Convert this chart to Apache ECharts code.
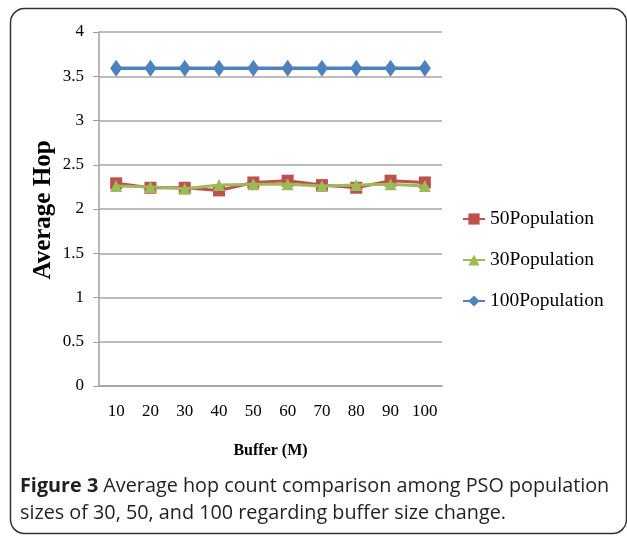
<!DOCTYPE html>
<html>
<head>
<meta charset="utf-8">
<script src="https://cdn.jsdelivr.net/npm/echarts@6/dist/echarts.min.js"></script>
<style>
html,body{margin:0;padding:0;background:#fff;}
#c{width:627px;height:536px;}
</style>
</head>
<body>
<div id="c"></div>
<script>
const categories = ['10','20','30','40','50','60','70','80','90','100'];
const pop50 = [2.29, 2.24, 2.24, 2.21, 2.30, 2.32, 2.27, 2.24, 2.32, 2.30];
const pop30 = [2.26, 2.25, 2.23, 2.27, 2.28, 2.28, 2.26, 2.27, 2.28, 2.26];
const pop100 = [3.59, 3.59, 3.59, 3.59, 3.59, 3.59, 3.59, 3.59, 3.59, 3.59];
const seriesNames = ['50Population', '30Population', '100Population'];
const yAxisName = 'Average Hop';
const xAxisName = 'Buffer (M)';
const captionBold = 'Figure 3';
const captionLine1 = ' Average hop count comparison among PSO population';
const captionLine2 = 'sizes of 30, 50, and 100 regarding buffer size change.';

const chart = echarts.init(document.getElementById('c'), null, {renderer: 'canvas'});
const serif = '"Liberation Serif", "Times New Roman", serif';
const option = {
  backgroundColor: '#ffffff',
  animation: false,
  grid: {left: 99, right: 185, top: 32, bottom: 150},
  legend: {
    orient: 'vertical',
    left: 457,
    top: 203,
    itemWidth: 22,
    itemHeight: 14,
    itemGap: 19,
    data: seriesNames,
    textStyle: {fontFamily: serif, fontSize: 19.5, lineHeight: 22, color: '#000'}
  },
  xAxis: {
    type: 'category',
    data: categories,
    boundaryGap: true,
    name: xAxisName,
    nameLocation: 'middle',
    nameGap: 57,
    nameTextStyle: {fontFamily: serif, fontSize: 16, fontWeight: 'bold', color: '#000'},
    axisLine: {lineStyle: {color: '#a0a0a0', width: 1.5}},
    axisTick: {show: false},
    axisLabel: {fontFamily: serif, fontSize: 17, color: '#000', margin: 17}
  },
  yAxis: {
    type: 'value',
    min: 0, max: 4, interval: 0.5,
    axisLine: {show: true, lineStyle: {color: '#a0a0a0', width: 1.5}},
    axisTick: {show: true, length: 6, lineStyle: {color: '#a0a0a0'}},
    axisLabel: {fontFamily: serif, fontSize: 17, color: '#000', margin: 15},
    splitLine: {lineStyle: {color: '#a6a6a6', width: 1.5}}
  },
  series: [
    {name: seriesNames[0], type: 'line', data: pop50, symbol: 'rect', symbolSize: 12,
     itemStyle: {color: '#c0504d'}, lineStyle: {color: '#c0504d', width: 3}, z: 2},
    {name: seriesNames[1], type: 'line', data: pop30, symbol: 'triangle', symbolSize: 12,
     itemStyle: {color: '#9bbb59'}, lineStyle: {color: '#9bbb59', width: 3}, z: 3},
    {name: seriesNames[2], type: 'line', data: pop100, symbol: 'diamond', symbolSize: [12, 17],
     itemStyle: {color: '#4f81bd'}, lineStyle: {color: '#4f81bd', width: 3.5}, z: 4}
  ],
  graphic: [
    {type: 'rect', left: 8, top: 6, z: -1,
     shape: {width: 616, height: 525, r: 14},
     style: {fill: 'none', stroke: '#333', lineWidth: 1.5}},
    {type: 'text', x: 44, y: 210, rotation: Math.PI / 2,
     style: {text: yAxisName, fontFamily: serif, fontSize: 25, fontWeight: 'bold', fill: '#000',
             align: 'center', verticalAlign: 'middle'}},
    {type: 'text', left: 20, top: 476,
     style: {
       text: '{b|' + captionBold + '}{n|' + captionLine1 + '}\n{n|' + captionLine2 + '}',
       rich: {
         b: {fontFamily: '"Open Sans", sans-serif', fontSize: 19.8, fontWeight: 'bold', fill: '#231f20', lineHeight: 27},
         n: {fontFamily: '"Open Sans", sans-serif', fontSize: 19.8, fill: '#231f20', lineHeight: 27}
       }
     }}
  ]
};
chart.setOption(option);
</script>
</body>
</html>
